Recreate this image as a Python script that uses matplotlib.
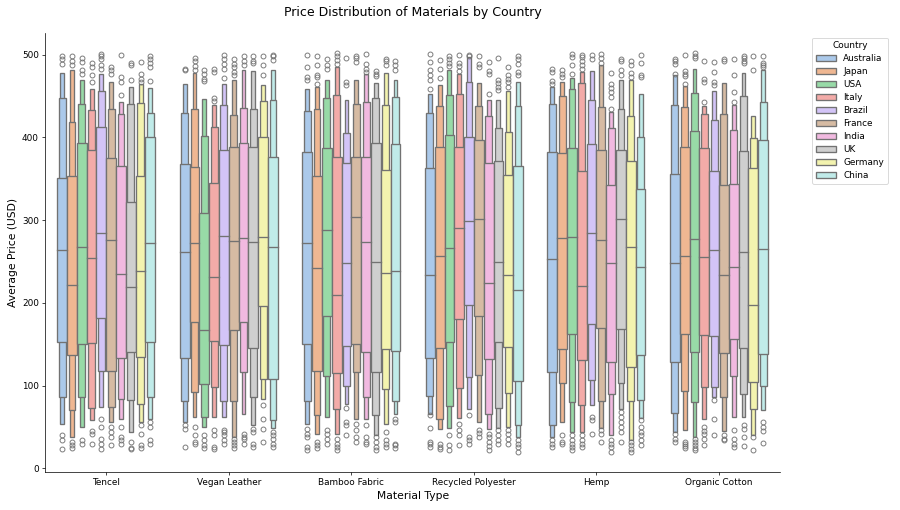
import colorsys

import matplotlib

matplotlib.use("Agg")
import matplotlib.pyplot as plt
from matplotlib.colors import to_rgb
from matplotlib.patches import Patch, Rectangle

# --- data -----------------------------------------------------------------
materials = ["Tencel", "Vegan Leather", "Bamboo Fabric", "Recycled Polyester",
             "Hemp", "Organic Cotton"]
countries = ["Australia", "Japan", "USA", "Italy", "Brazil", "France",
             "India", "UK", "Germany", "China"]

# letter values per country: [L3, L2, L1, median, U1, U2, U3]
tencel = [
    [54, 86, 153, 264, 351, 448, 478],
    [38, 70, 137, 222, 353, 419, 482],
    [50, 86, 150, 268, 393, 441, 469],
    [58, 73, 152, 254, 385, 433, 459],
    [74, 118, 182, 285, 413, 456, 477],
    [56, 74, 118, 276, 375, 434, 467],
    [60, 84, 133, 235, 365, 428, 443],
    [44, 83, 141, 219, 322, 440, 461],
    [56, 78, 135, 239, 353, 442, 465],
    [60, 86, 153, 272, 401, 430, 460],
]
vegan_leather = [
    [56, 82, 134, 262, 368, 430, 465],
    [62, 92, 177, 272, 364, 435, 478],
    [50, 62, 102, 167, 309, 402, 447],
    [62, 98, 154, 231, 345, 413, 439],
    [62, 81, 149, 281, 385, 439, 465],
    [38, 81, 167, 275, 388, 427, 469],
    [66, 116, 177, 278, 393, 436, 482],
    [52, 86, 146, 274, 389, 435, 480],
    [84, 108, 196, 280, 401, 444, 464],
    [49, 59, 108, 268, 376, 445, 482],
]
bamboo_fabric = [
    [54, 82, 150, 273, 383, 432, 458],
    [41, 65, 118, 242, 353, 434, 461],
    [62, 112, 184, 288, 387, 448, 469],
    [42, 72, 115, 210, 376, 451, 485],
    [78, 100, 148, 248, 369, 405, 445],
    [60, 117, 150, 304, 376, 440, 470],
    [60, 86, 141, 274, 376, 443, 477],
    [40, 64, 116, 250, 393, 448, 466],
    [54, 96, 144, 236, 361, 439, 478],
    [66, 82, 142, 238, 392, 449, 470],
]
recycled_polyester = [
    [66, 88, 134, 234, 363, 430, 452],
    [48, 60, 146, 257, 388, 438, 463],
    [49, 75, 153, 266, 403, 451, 482],
    [61, 97, 181, 291, 389, 453, 477],
    [72, 110, 198, 299, 400, 467, 497],
    [56, 113, 184, 301, 397, 438, 466],
    [48, 66, 132, 224, 369, 426, 445],
    [49, 73, 153, 250, 371, 412, 445],
    [50, 91, 147, 234, 355, 407, 456],
    [38, 52, 105, 216, 365, 438, 467],
]
hemp = [
    [38, 52, 116, 253, 382, 441, 461],
    [56, 103, 144, 279, 381, 450, 467],
    [44, 80, 162, 280, 387, 458, 472],
    [44, 76, 131, 220, 359, 466, 479],
    [76, 107, 174, 284, 392, 445, 480],
    [49, 82, 170, 276, 385, 437, 487],
    [40, 90, 129, 248, 342, 411, 431],
    [72, 103, 169, 301, 385, 435, 470],
    [34, 81, 123, 267, 371, 426, 469],
    [61, 83, 137, 244, 338, 401, 453],
]
organic_cotton = [
    [44, 67, 128, 248, 356, 439, 476],
    [46, 93, 162, 257, 388, 437, 462],
    [38, 80, 141, 277, 408, 454, 483],
    [60, 98, 161, 256, 387, 428, 438],
    [86, 98, 160, 264, 360, 421, 456],
    [45, 86, 139, 234, 343, 428, 466],
    [62, 112, 156, 243, 344, 409, 439],
    [62, 90, 145, 262, 384, 450, 478],
    [40, 72, 104, 197, 363, 399, 426],
    [70, 100, 138, 265, 397, 443, 481],
]

# outliers per country
tencel_fliers = [
    [489, 495, 499, 40, 34, 24],
    [488, 493, 499, 32, 28, 25],
    [477, 481, 491, 496, 34, 30],
    [467, 475, 485, 490, 45, 41, 30],
    [483, 488, 495, 499, 501, 60, 50, 36, 30, 24],
    [477, 481, 485, 50, 44, 38, 28],
    [451, 467, 473, 500, 50, 38, 34, 30],
    [469, 488, 490, 32, 25, 23],
    [467, 471, 477, 491, 52, 42, 28, 25],
    [468, 485, 490, 495, 499, 56, 50, 34, 30],
]
vegan_leather_fliers = [
    [481, 483, 52, 48, 26],
    [481, 486, 492, 496, 50, 40, 32, 29],
    [468, 471, 477, 482, 40, 34, 28, 25],
    [444, 448, 479, 483, 46, 40, 26, 24],
    [472, 483, 489, 495, 500, 46, 44, 40, 34, 30],
    [475, 479, 485, 489, 495, 36, 32, 28, 25],
    [487, 493, 499, 42, 38, 36, 30],
    [490, 493, 499, 48, 44, 30, 26],
    [475, 487, 499, 76, 60, 48, 32],
    [494, 498, 500, 44, 40, 36, 30, 26],
]
bamboo_fabric_fliers = [
    [469, 473, 485, 500, 48, 42, 38, 26, 22],
    [465, 473, 475, 487, 499, 32, 28, 25],
    [483, 487, 495, 46, 42, 36, 30],
    [489, 494, 499, 502, 36, 30, 26, 22],
    [464, 467, 496, 73, 56, 52, 40],
    [491, 496, 499, 54, 46, 38, 32],
    [479, 483, 489, 501, 52, 38, 32, 29],
    [474, 477, 480, 38, 32, 26, 22],
    [488, 492, 495, 44, 34, 30, 26],
    [481, 488, 492, 60, 56, 30, 28, 25],
]
recycled_polyester_fliers = [
    [459, 469, 475, 481, 491, 501, 64, 49, 32, 29, 26],
    [472, 483, 494, 29, 26, 24],
    [486, 490, 495, 498, 40, 28, 22],
    [480, 486, 490, 500, 54, 46, 40, 28],
    [499, 500, 64, 38, 34, 30],
    [485, 489, 499, 46, 43, 38],
    [453, 477, 480, 491, 42, 38, 32, 27, 22],
    [457, 461, 466, 470, 496, 46, 40, 34, 30],
    [461, 467, 471, 475, 485, 46, 41, 36, 30],
    [475, 479, 489, 495, 499, 34, 30, 26, 20],
]
hemp_fliers = [
    [465, 468, 479, 483, 34, 30, 26],
    [473, 477, 481, 40, 32, 30],
    [477, 487, 497, 501, 40, 34, 30, 26, 22],
    [483, 487, 492, 497, 500, 40, 34, 30, 26],
    [495, 500, 62, 58, 42],
    [490, 496, 501, 46, 42, 32],
    [435, 449, 455, 460, 465, 478, 34, 30, 26, 20],
    [476, 481, 492, 495, 68, 62, 56, 50, 44, 32],
    [473, 478, 488, 493, 32, 28, 23, 20],
    [473, 475, 490, 500, 58, 50, 44, 40, 34, 28],
]
organic_cotton_fliers = [
    [477, 489, 492, 495, 42, 36, 32],
    [465, 474, 477, 480, 500, 32, 30, 27, 25],
    [496, 499, 502, 36, 32, 28, 25, 22],
    [443, 467, 471, 493, 50, 45, 41, 36, 28],
    [464, 467, 479, 491, 83, 60, 40],
    [492, 495, 40, 36, 34],
    [443, 455, 476, 495, 46, 36, 30, 26],
    [490, 493, 496, 499, 52, 48, 38, 27],
    [482, 499, 38, 22],
    [485, 487, 490, 499, 56, 50, 45, 31],
]

letter_values = [tencel, vegan_leather, bamboo_fabric, recycled_polyester,
                 hemp, organic_cotton]
fliers = [tencel_fliers, vegan_leather_fliers, bamboo_fabric_fliers,
          recycled_polyester_fliers, hemp_fliers, organic_cotton_fliers]

# --- styling ---------------------------------------------------------------
PASTEL = ["#a1c9f4", "#ffb482", "#8de5a1", "#ff9f9b", "#d0bbff",
          "#debb9b", "#fab0e4", "#cfcfcf", "#fffea3", "#b9f2f0"]
EDGE = "#727272"
LW = 1.5
HUE_W = 0.8 / len(countries)
REL_W = [0.4, 0.7, 1.0]  # outer -> inner level widths


def desaturate(c, prop=0.75):
    h, l, s = colorsys.rgb_to_hls(*to_rgb(c))
    return colorsys.hls_to_rgb(h, l, s * prop)


colors = [desaturate(c) for c in PASTEL]

DPI = 900 / 14
fig, ax = plt.subplots(figsize=(14, 510 / DPI), dpi=DPI)
fig.subplots_adjust(left=0.05, right=0.867, bottom=0.075, top=0.935)

for m, groups in enumerate(letter_values):
    for i, lv in enumerate(groups):
        x = m - 0.4 + HUE_W / 2 + HUE_W * i
        l3, l2, l1, med, u1, u2, u3 = lv
        for (lo, hi), rw in zip([(l3, u3), (l2, u2), (l1, u1)], REL_W):
            w = HUE_W * rw
            ax.add_patch(Rectangle((x - w / 2, lo), w, hi - lo,
                                   facecolor=colors[i], edgecolor=EDGE, lw=LW))
        ax.plot([x - HUE_W / 2, x + HUE_W / 2], [med, med], color=EDGE, lw=LW)
        fl = fliers[m][i]
        ax.plot([x] * len(fl), fl, "o", ms=5.5, mfc="none", mec=EDGE, mew=1.0)

ax.set_xlim(-0.5, len(materials) - 0.5)
ax.set_xticks(range(len(materials)))
ax.set_xticklabels(materials)
ax.autoscale(axis="y")
ax.spines["top"].set_visible(False)
ax.spines["right"].set_visible(False)

ax.set_title("Price Distribution of Materials by Country", fontsize=14, pad=19)
ax.set_xlabel("Material Type", fontsize=12)
ax.set_ylabel("Average Price (USD)", fontsize=12)

handles = [Patch(facecolor=c, edgecolor=EDGE, lw=LW, label=n)
           for c, n in zip(colors, countries)]
ax.legend(handles=handles, title="Country", bbox_to_anchor=(1.037, 1),
          loc="upper left", fontsize=10, title_fontsize=10,
          labelspacing=0.45, handlelength=2.3)

fig.savefig("out.png", dpi=DPI)
